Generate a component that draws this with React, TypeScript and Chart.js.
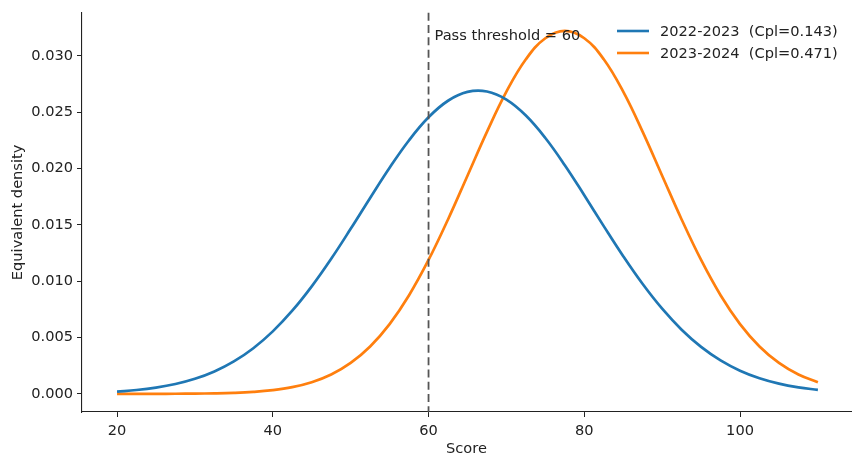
import React, { useEffect, useRef } from "react";
import { Chart, registerables } from "chart.js";

Chart.register(...registerables);

const scores = [
  20, 22.5, 25, 27.5, 30, 32.5, 35, 37.5, 40, 42.5, 45, 47.5, 50, 52.5, 55, 57.5, 60, 62.5, 65,
  67.5, 70, 72.5, 75, 77.5, 80, 82.5, 85, 87.5, 90, 92.5, 95, 97.5, 100, 102.5, 105, 107.5, 110,
];

const density2022 = [
  0.000203, 0.000339, 0.000551, 0.000869, 0.001332, 0.001985, 0.002877, 0.00405, 0.005544,
  0.007374, 0.009536, 0.011984, 0.01464, 0.017381, 0.020061, 0.022503, 0.024537, 0.026004,
  0.026787, 0.026821, 0.026102, 0.024691, 0.022701, 0.020287, 0.017623, 0.014879, 0.012211,
  0.00974, 0.007551, 0.005691, 0.004168, 0.002968, 0.002054, 0.001381, 0.000903, 0.000574,
  0.000355,
];

const density2023 = [
  0.0000007, 0.0000017, 0.0000041, 0.0000094, 0.0000207, 0.000044, 0.0000896, 0.000176,
  0.00033, 0.000595, 0.001032, 0.001716, 0.002742, 0.004205, 0.00619, 0.008751, 0.011876,
  0.015473, 0.019355, 0.023247, 0.026809, 0.029682, 0.031551, 0.0322, 0.031551, 0.029682,
  0.026809, 0.023247, 0.019355, 0.015473, 0.011876, 0.008751, 0.00619, 0.004205, 0.002742,
  0.001716, 0.001032,
];

const seriesLabels = ["2022-2023  (Cpl=0.143)", "2023-2024  (Cpl=0.471)"];
const seriesColors = ["#1f77b4", "#ff7f0e"];
const xTicks = [20, 40, 60, 80, 100];
const yTicks = [0, 0.005, 0.01, 0.015, 0.02, 0.025, 0.03];
const threshold = 60;
const thresholdLabel = "Pass threshold = 60";

const FONT = "'DejaVu Sans', sans-serif";
const FS = 14.6;

const overlayPlugin = {
  id: "overlay",
  afterDatasetsDraw(chart: any) {
    const { ctx, chartArea, scales } = chart;
    const x = scales.x.getPixelForValue(threshold);
    ctx.save();
    ctx.strokeStyle = "#555555";
    ctx.lineWidth = 1.8;
    ctx.setLineDash([8, 4.3]);
    ctx.beginPath();
    ctx.moveTo(x, chartArea.top);
    ctx.lineTo(x, chartArea.bottom);
    ctx.stroke();
    ctx.setLineDash([]);
    ctx.fillStyle = "#222222";
    ctx.font = `${FS}px ${FONT}`;
    ctx.textBaseline = "middle";
    ctx.textAlign = "left";
    ctx.fillText(thresholdLabel, x + 6, 36.5);

    // legend
    const rows = [31, 53];
    for (let i = 0; i < seriesLabels.length; i++) {
      ctx.strokeStyle = seriesColors[i];
      ctx.lineWidth = 2.6;
      ctx.beginPath();
      ctx.moveTo(617, rows[i]);
      ctx.lineTo(649, rows[i]);
      ctx.stroke();
      ctx.fillStyle = "#222222";
      ctx.fillText(seriesLabels[i], 660, rows[i] + 1);
    }
    ctx.restore();
  },
};

export default function App() {
  const ref = useRef<HTMLCanvasElement>(null);

  useEffect(() => {
    if (!ref.current) return;
    const mk = (ys: number[]) => scores.map((s, i) => ({ x: s, y: ys[i] }));
    const chart = new Chart(ref.current, {
      type: "line",
      data: {
        datasets: [
          {
            label: seriesLabels[0],
            data: mk(density2022),
            borderColor: seriesColors[0],
            borderWidth: 2.7,
            pointRadius: 0,
            tension: 0.4,
            fill: false,
          },
          {
            label: seriesLabels[1],
            data: mk(density2023),
            borderColor: seriesColors[1],
            borderWidth: 2.7,
            pointRadius: 0,
            tension: 0.4,
            fill: false,
          },
        ],
      },
      plugins: [overlayPlugin],
      options: {
        responsive: false,
        animation: false,
        layout: { padding: { top: 11, right: 1, left: 0, bottom: 0 } },
        plugins: { legend: { display: false }, tooltip: { enabled: false } },
        scales: {
          x: {
            type: "linear",
            min: 15.5,
            max: 114.25,
            afterBuildTicks: (axis: any) => {
              axis.ticks = xTicks.map((v) => ({ value: v }));
            },
            afterFit: (axis: any) => {
              axis.height = 46;
            },
            grid: {
              drawOnChartArea: false,
              drawTicks: true,
              tickLength: 5,
              color: "#222222",
            },
            border: { display: true, color: "#222222", width: 1.1 },
            ticks: {
              color: "#222222",
              font: { family: FONT, size: FS },
              padding: 5,
              maxRotation: 0,
              callback: (v: any) => String(v),
            },
            title: {
              display: true,
              text: "Score",
              color: "#222222",
              font: { family: FONT, size: FS },
              padding: { top: 3, bottom: 0 },
            },
          },
          y: {
            type: "linear",
            min: -0.00161,
            max: 0.03381,
            afterBuildTicks: (axis: any) => {
              axis.ticks = yTicks.map((v) => ({ value: v }));
            },
            afterFit: (axis: any) => {
              axis.width = 82;
            },
            grid: {
              drawOnChartArea: false,
              drawTicks: true,
              tickLength: 5,
              color: "#222222",
            },
            border: { display: true, color: "#222222", width: 1.1 },
            ticks: {
              color: "#222222",
              font: { family: FONT, size: FS },
              padding: 4,
              callback: (v: any) => Number(v).toFixed(3),
            },
            title: {
              display: true,
              text: "Equivalent density",
              color: "#222222",
              font: { family: FONT, size: FS },
              padding: { top: 9, bottom: 4 },
            },
          },
        },
      },
    } as any);
    return () => chart.destroy();
  }, []);

  return (
    <div style={{ position: "fixed", left: 0, top: 0, width: 852, height: 458, background: "#fff" }}>
      <canvas ref={ref} width={852} height={458} style={{ width: 852, height: 458 }} />
    </div>
  );
}
